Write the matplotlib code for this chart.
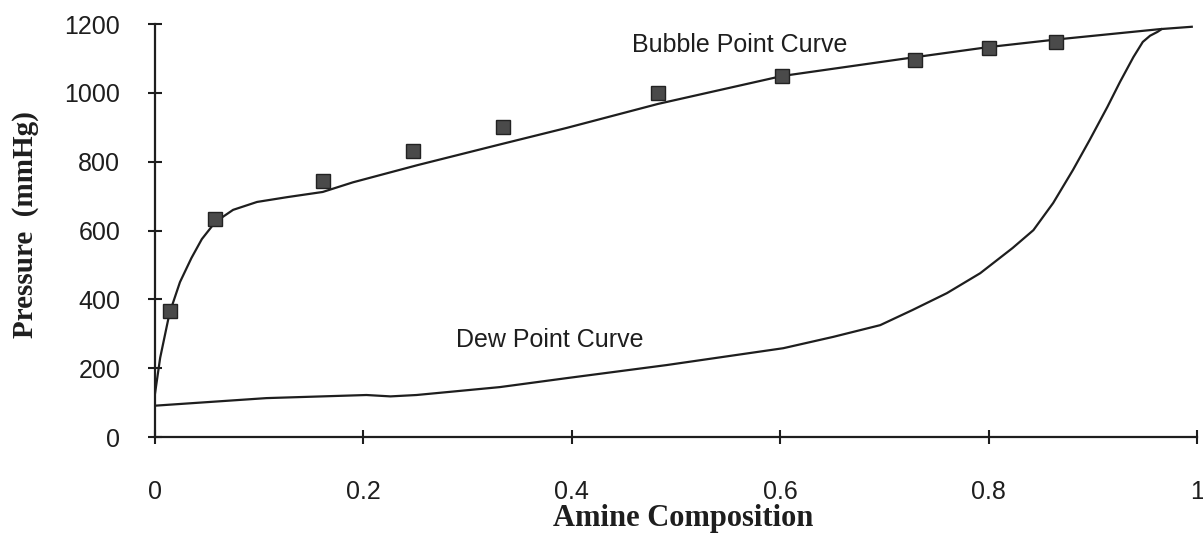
import matplotlib
matplotlib.use("Agg")
import matplotlib.pyplot as plt

# ── Data ──────────────────────────────────────────────────────────────────────
# measured bubble points (amine mole fraction, mmHg)
exp_x = [0.014, 0.058, 0.161, 0.248, 0.334, 0.483, 0.602, 0.729, 0.800, 0.865]
exp_p = [365, 632, 745, 832, 901, 1000, 1049, 1096, 1130, 1148]

# calculated bubble point curve
bubble_x = [0.0, 0.005, 0.014, 0.024, 0.035, 0.045, 0.058, 0.075, 0.098, 0.127,
            0.161, 0.190, 0.252, 0.331, 0.395, 0.483, 0.602, 0.716, 0.800, 0.865,
            0.964, 0.995]
bubble_p = [125, 230, 360, 450, 520, 575, 625, 660, 683, 697,
            712, 740, 790, 850, 898, 968, 1049, 1098, 1133, 1155,
            1185, 1192]

# calculated dew point curve
dew_x = [0.0, 0.107, 0.203, 0.226, 0.251, 0.331, 0.395, 0.491, 0.603, 0.651,
         0.696, 0.727, 0.760, 0.792, 0.823, 0.843, 0.862, 0.881, 0.897, 0.914,
         0.926, 0.939, 0.948, 0.955, 0.962, 0.966]
dew_p = [91, 113, 122, 118, 122, 145, 171, 209, 258, 291,
         325, 369, 418, 476, 549, 601, 680, 776, 863, 959,
         1031, 1104, 1148, 1166, 1177, 1185]

x_ticks = [0, 0.2, 0.4, 0.6, 0.8, 1]
x_tick_labels = ["0", "0.2", "0.4", "0.6", "0.8", "1"]
y_ticks = [0, 200, 400, 600, 800, 1000, 1200]

INK = "#1e1e1e"

# ── Figure ────────────────────────────────────────────────────────────────────
fig = plt.figure(figsize=(12.03, 5.36), dpi=100)
ax = fig.add_axes([0.1288, 0.1847, 0.8662, 0.7705])

ax.plot(bubble_x, bubble_p, color=INK, lw=1.6, solid_joinstyle="round")
ax.plot(dew_x, dew_p, color=INK, lw=1.6, solid_joinstyle="round")
ax.plot(exp_x, exp_p, ls="none", marker="s", markersize=10,
        markerfacecolor="#4a4a4a", markeredgecolor="#222222", markeredgewidth=1)

ax.set_xlim(0, 1)
ax.set_ylim(0, 1200)

for side in ("top", "right"):
    ax.spines[side].set_visible(False)
for side in ("left", "bottom"):
    ax.spines[side].set_linewidth(1.6)
    ax.spines[side].set_color(INK)

tick_font = {"family": "Liberation Sans", "size": 18}
ax.set_xticks(x_ticks)
ax.set_xticklabels(x_tick_labels, fontdict=tick_font, color=INK)
ax.set_yticks(y_ticks)
ax.set_yticklabels([str(v) for v in y_ticks], fontdict=tick_font, color=INK)
ax.tick_params(axis="x", direction="inout", length=10, width=1.5, color=INK, pad=26)
ax.tick_params(axis="y", direction="inout", length=10, width=1.5, color=INK, pad=20)

ax.set_xlabel("Amine Composition", family="Liberation Serif", weight="bold",
              size=22, color=INK, va="center")
ax.xaxis.set_label_coords(0.507, -0.197)
ax.set_ylabel("Pressure  (mmHg)", family="Liberation Serif", weight="bold",
              size=21, color=INK, va="center")
ax.yaxis.set_label_coords(-0.124, 0.515)

ax.text(0.458, 1138, "Bubble Point Curve", family="Liberation Sans", size=18,
        color=INK, va="center", ha="left")
ax.text(0.289, 282, "Dew Point Curve", family="Liberation Sans", size=18,
        color=INK, va="center", ha="left")

fig.savefig("out.png", dpi=100, facecolor="white")
plt.close(fig)
